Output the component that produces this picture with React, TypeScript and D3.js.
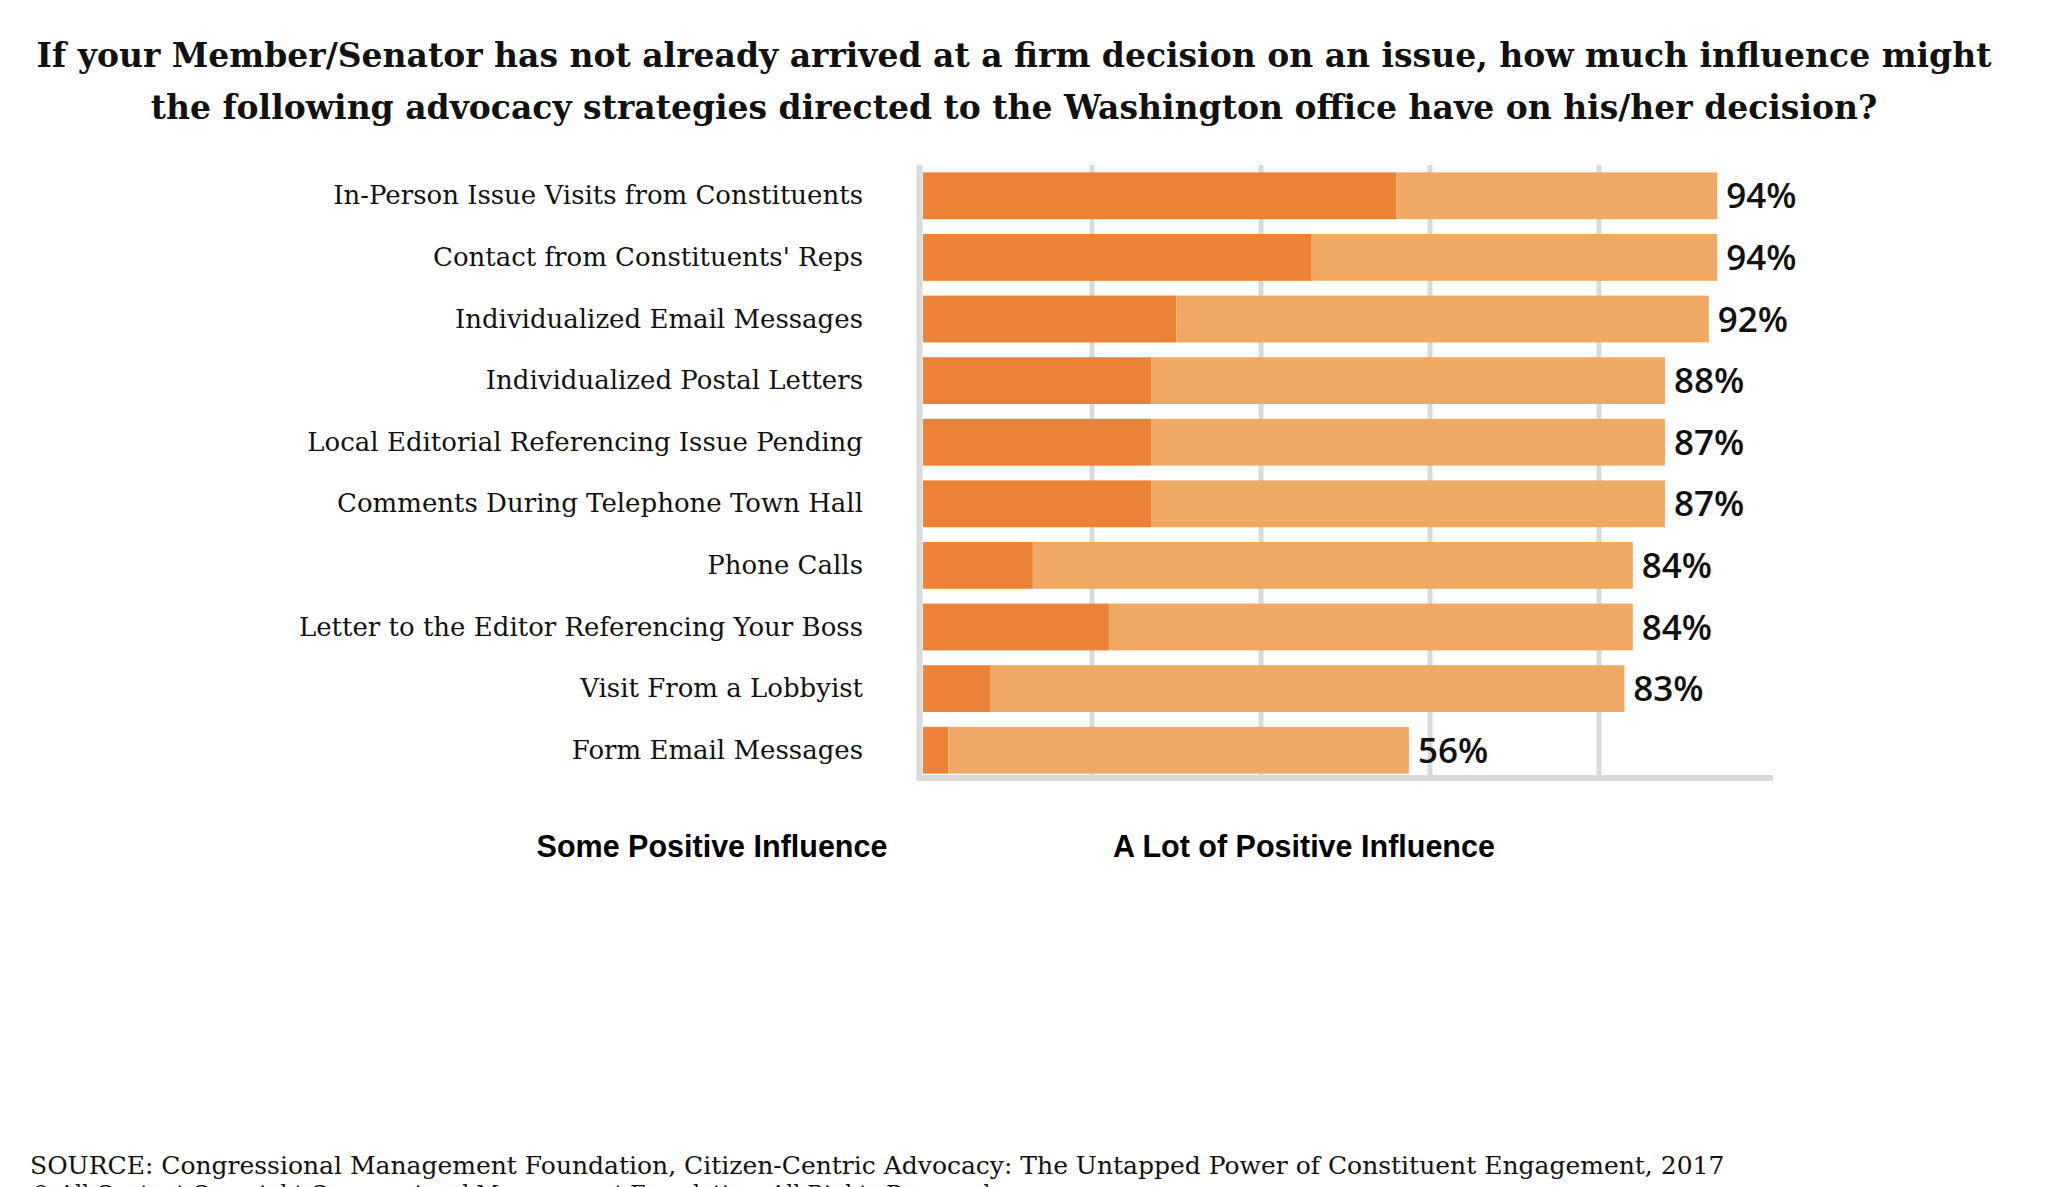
import React from "react";
import * as d3 from "d3";

const categories = [
  "In-Person Issue Visits from Constituents",
  "Contact from Constituents' Reps",
  "Individualized Email Messages",
  "Individualized Postal Letters",
  "Local Editorial Referencing Issue Pending",
  "Comments During Telephone Town Hall",
  "Phone Calls",
  "Letter to the Editor Referencing Your Boss",
  "Visit From a Lobbyist",
  "Form Email Messages",
];
const aLotValues = [56, 46, 30, 27, 27, 27, 13, 22, 8, 3];
const someValues = [38, 48, 63, 60.8, 60.8, 60.8, 71, 62, 75, 54.5];
const totalLabels = ["94%", "94%", "92%", "88%", "87%", "87%", "84%", "84%", "83%", "56%"];
const gridTicks = [20, 40, 60, 80];
const seriesNames = ["Some Positive Influence", "A Lot of Positive Influence"];

const titleLines = [
  "If your Member/Senator has not already arrived at a firm decision on an issue, how much influence might",
  "the following advocacy strategies directed to the Washington office have on his/her decision?",
];
const sourceText =
  "SOURCE: Congressional Management Foundation, Citizen-Centric Advocacy: The Untapped Power of Constituent Engagement, 2017";
const copyrightText = "© All Content Copyright Congressional Management Foundation. All Rights Reserved.";

const W = 2048;
const H = 1187;
const DARK = "#EC8235";
const LIGHT = "#F0A964";
const GRID = "#DADADA";
const SERIF = "'DejaVu Serif', 'Liberation Serif', serif";
const SANS = "'Liberation Sans', Arial, sans-serif";

export default function App() {
  const x = d3.scaleLinear().domain([0, 100]).range([923, 1768]);
  const y = d3
    .scaleBand<string>()
    .domain(categories)
    .range([165, 781])
    .paddingInner(0.24)
    .paddingOuter(0.12);
  const bw = y.bandwidth();
  const top = y.range()[0];
  const base = y.range()[1];

  return (
    <svg
      width={W}
      height={H}
      style={{ position: "absolute", left: 0, top: 0, background: "#fff" }}
    >
      <rect x={0} y={0} width={W} height={H} fill="#fff" />
      {titleLines.map((t, i) => (
        <text
          key={i}
          x={1014}
          y={67 + i * 52}
          textAnchor="middle"
          fontFamily={SERIF}
          fontWeight="bold"
          fontSize={33}
          fill="#111"
        >
          {t}
        </text>
      ))}

      {/* gridlines */}
      {gridTicks.map((t) => (
        <line key={t} x1={x(t)} x2={x(t)} y1={top} y2={base} stroke={GRID} strokeWidth={5} />
      ))}
      <line x1={x(0) - 3.5} x2={x(0) - 3.5} y1={top} y2={base} stroke={GRID} strokeWidth={6} />
      <line x1={x(0) - 6.5} x2={x(100) + 5} y1={base - 3} y2={base - 3} stroke={GRID} strokeWidth={6} />

      {categories.map((c, i) => {
        const yy = y(c)!;
        const a = aLotValues[i];
        const s = someValues[i];
        return (
          <g key={c}>
            <rect x={x(0)} y={yy} width={x(a) - x(0)} height={bw} fill={DARK} />
            <rect x={x(a)} y={yy} width={x(a + s) - x(a)} height={bw} fill={LIGHT} />
            <text
              x={863}
              y={yy + bw / 2}
              dy="0.33em"
              textAnchor="end"
              fontFamily={SERIF}
              fontSize={26}
              fill="#111"
            >
              {c}
            </text>
            <text
              x={x(a + s) + 9}
              y={yy + bw / 2}
              dy="0.36em"
              fontFamily="'Open Sans', sans-serif"
              fontWeight={600}
              fontSize={35}
              fill="#111"
            >
              {totalLabels[i]}
            </text>
          </g>
        );
      })}

      <text x={712} y={857} textAnchor="middle" fontFamily={SANS} fontWeight="bold" fontSize={30.5}>
        {seriesNames[0]}
      </text>
      <text x={1304} y={857} textAnchor="middle" fontFamily={SANS} fontWeight="bold" fontSize={30.5}>
        {seriesNames[1]}
      </text>

      <text x={30} y={1174} fontFamily={SERIF} fontSize={25} fill="#111">
        {sourceText}
      </text>
      <text x={30} y={1201} fontFamily={SERIF} fontSize={22} fill="#111">
        {copyrightText}
      </text>
    </svg>
  );
}
